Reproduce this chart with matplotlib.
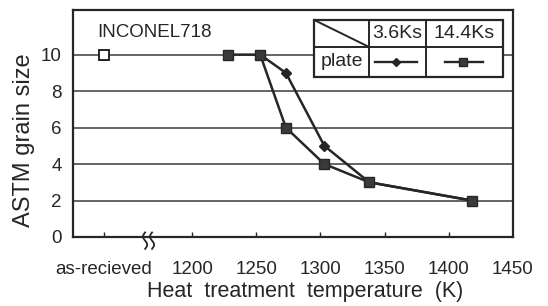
import numpy as np
import matplotlib
matplotlib.use("Agg")
import matplotlib.pyplot as plt
from matplotlib.patches import Rectangle
from matplotlib.lines import Line2D

plt.rcParams["font.family"] = ["Liberation Sans", "DejaVu Sans"]

# data (temperatures in K, as-received placed left of the axis break)
as_received_x = 1131
as_received_y = 10
break_x = 1166

temp_36 = [1253, 1273, 1303, 1338, 1418]
grain_36 = [10, 9, 5, 3, 2]

temp_144 = [1228, 1253, 1273, 1303, 1338, 1418]
grain_144 = [10, 10, 6, 4, 3, 2]

tick_pos = [1131, 1200, 1250, 1300, 1350, 1400, 1450]
tick_labels = ["as-recieved", "1200", "1250", "1300", "1350", "1400", "1450"]
y_ticks = [0, 2, 4, 6, 8, 10]

ink = "#262626"
grid_c = "#4a4a4a"

fig = plt.figure(figsize=(5.48, 3.06), dpi=100)
ax = fig.add_axes([0.133, 0.2255, 0.803, 0.742])
ax.set_xlim(1107, 1450)
ax.set_ylim(0, 12.45)

for yv in y_ticks[1:]:
    ax.axhline(yv, color=grid_c, lw=1.2, zorder=1)

for s in ax.spines.values():
    s.set_color(ink)
    s.set_linewidth(1.6)

ax.plot(temp_36, grain_36, color=ink, lw=1.8, marker="D", ms=4.6,
        mfc=ink, mec=ink, zorder=3)
ax.plot(temp_144, grain_144, color=ink, lw=1.8, marker="s", ms=6.5,
        mfc="#3a3a3a", mec=ink, zorder=4)
ax.plot([as_received_x], [as_received_y], marker="s", ms=6.5, mfc="white",
        mec=ink, mew=1.4, ls="none", zorder=4)

# axis break mark
s = np.linspace(-1, 1, 30)
for dx in (-2.7, 2.7):
    ax.plot(break_x + dx + 1.6 * np.sin(np.pi * s), -0.2 - 0.45 * s,
            color=ink, lw=1.3, clip_on=False, zorder=5)

ax.set_xticks(tick_pos)
ax.set_xticklabels(tick_labels)
ax.tick_params(axis="x", direction="in", length=3.5, width=1.0, color=ink,
               pad=17, labelsize=13.5, labelcolor=ink)
ax.set_yticks(y_ticks)
ax.tick_params(axis="y", length=0, pad=8, labelsize=13.5, labelcolor=ink)
ax.xaxis.get_major_ticks()[-1].tick1line.set_visible(False)

fig.text(305 / 548, 1 - 291 / 306, "Heat  treatment  temperature  (K)",
         ha="center", va="center", fontsize=15.5, color=ink)
fig.text(24 / 548, 1 - 140 / 306, "ASTM grain size", rotation=90,
         ha="center", va="center", fontsize=17, color=ink)

ax.text(0.0545, 0.899, "INCONEL718", transform=ax.transAxes,
        ha="left", va="center", fontsize=13.5, color=ink)

# legend drawn as a small table
x0, x1, x2, x3 = 0.548, 0.673, 0.802, 0.977
y0, y1, y2 = 0.705, 0.837, 0.956
ax.add_patch(Rectangle((x0, y0), x3 - x0, y2 - y0, transform=ax.transAxes,
                       facecolor="white", edgecolor=ink, lw=1.6, zorder=6))
for seg in [([x1, x1], [y0, y2]), ([x2, x2], [y0, y2]), ([x0, x3], [y1, y1]),
            ([x0, x1], [y2, y1])]:
    ax.add_line(Line2D(seg[0], seg[1], transform=ax.transAxes, color=ink,
                       lw=1.4, zorder=7))
ym = (y0 + y1) / 2
yt = (y1 + y2) / 2
ax.text((x1 + x2) / 2, yt, "3.6Ks", transform=ax.transAxes, ha="center",
        va="center", fontsize=14, color=ink, zorder=8)
ax.text((x2 + x3) / 2, yt, "14.4Ks", transform=ax.transAxes, ha="center",
        va="center", fontsize=14, color=ink, zorder=8)
ax.text((x0 + x1) / 2, ym, "plate", transform=ax.transAxes, ha="center",
        va="center", fontsize=14, color=ink, zorder=8)
ax.add_line(Line2D([0.686, 0.782], [ym, ym], transform=ax.transAxes,
                   color=ink, lw=1.7, zorder=8))
ax.add_line(Line2D([0.734], [ym], transform=ax.transAxes, marker="D", ms=4.5,
                   mfc=ink, mec=ink, ls="none", zorder=9))
ax.add_line(Line2D([0.845, 0.932], [ym, ym], transform=ax.transAxes,
                   color=ink, lw=1.7, zorder=8))
ax.add_line(Line2D([0.886], [ym], transform=ax.transAxes, marker="s", ms=6,
                   mfc="#3a3a3a", mec=ink, ls="none", zorder=9))

fig.savefig("out.png", dpi=100)
